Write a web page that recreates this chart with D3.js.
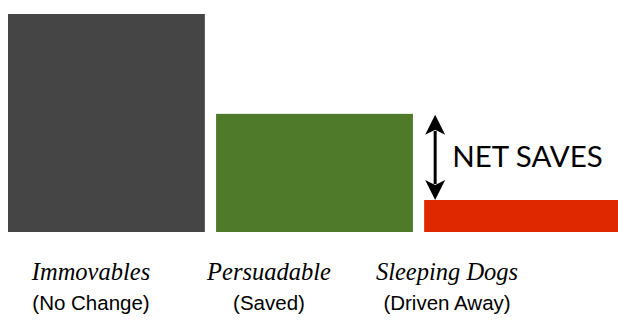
<!DOCTYPE html>
<html>
<head>
<meta charset="utf-8">
<script src="https://cdn.jsdelivr.net/npm/d3@7"></script>
<style>
  body { margin: 0; background: #fff; }
  svg { display: block; }
</style>
</head>
<body>
<script>
    var categories = ["Immovables", "Persuadable", "Sleeping Dogs"];
    var subtitles = ["(No Change)", "(Saved)", "(Driven Away)"];
    var values = [62, 33.6, 9.1];
    var colors = ["#454545", "#4e7a2a", "#e02800"];
    var arrowLabel = "NET SAVES";

    var width = 618, height = 322;

    var svg = d3.select("body").append("svg")
      .attr("width", width)
      .attr("height", height);

    var x = d3.scaleBand().domain(categories).range([8, 621]).paddingInner(0.054);
    var y = d3.scaleLinear().domain([0, 62]).range([232, 14]);
    // labels sit on their own spacing, not under the bar centres
    var xl = d3.scalePoint().domain(categories).range([91, 447]);

    var data = categories.map(function(c, i) {
      return {name: c, sub: subtitles[i], value: values[i], color: colors[i]};
    });

    //bars
    svg.selectAll("rect.bar")
      .data(data)
      .enter().append("rect")
      .attr("class", "bar")
      .attr("x", function(d) { return x(d.name); })
      .attr("width", x.bandwidth())
      .attr("y", function(d) { return y(d.value); })
      .attr("height", function(d) { return y(0) - y(d.value); })
      .attr("fill", function(d) { return d.color; });

    //category labels
    svg.selectAll("text.cat")
      .data(data)
      .enter().append("text")
      .attr("class", "cat")
      .attr("x", function(d) { return xl(d.name); })
      .attr("y", 280)
      .attr("text-anchor", "middle")
      .style("font-family", "'Liberation Serif', serif")
      .style("font-style", "italic")
      .style("font-size", "24.5px")
      .text(function(d) { return d.name; });

    svg.selectAll("text.sub")
      .data(data)
      .enter().append("text")
      .attr("class", "sub")
      .attr("x", function(d) { return xl(d.name); })
      .attr("y", 310)
      .attr("text-anchor", "middle")
      .style("font-family", "'Liberation Sans', Arial, sans-serif")
      .style("font-size", "20.5px")
      .text(function(d) { return d.sub; });

    //double arrow between persuadable and sleeping dogs
    var ax = x("Sleeping Dogs") + 11;
    var yTop = y(values[1]) + 1, yBot = y(values[2]);
    var head = 20, hw = 10;
    svg.append("line")
      .attr("x1", ax).attr("x2", ax)
      .attr("y1", yTop + head - 4).attr("y2", yBot - head + 4)
      .attr("stroke", "#000").attr("stroke-width", 3);
    svg.append("path")
      .attr("d", "M" + ax + "," + yTop + "L" + (ax + hw) + "," + (yTop + head) +
        "L" + ax + "," + (yTop + head - 5) + "L" + (ax - hw) + "," + (yTop + head) + "Z")
      .attr("fill", "#000");
    svg.append("path")
      .attr("d", "M" + ax + "," + yBot + "L" + (ax + hw) + "," + (yBot - head) +
        "L" + ax + "," + (yBot - head + 5) + "L" + (ax - hw) + "," + (yBot - head) + "Z")
      .attr("fill", "#000");

    svg.append("text")
      .attr("x", ax + 17)
      .attr("y", (yTop + yBot) / 2 + 10)
      .style("font-family", "Lato, sans-serif")
      .style("font-size", "29.5px")
      .text(arrowLabel);
</script>
</body>
</html>
